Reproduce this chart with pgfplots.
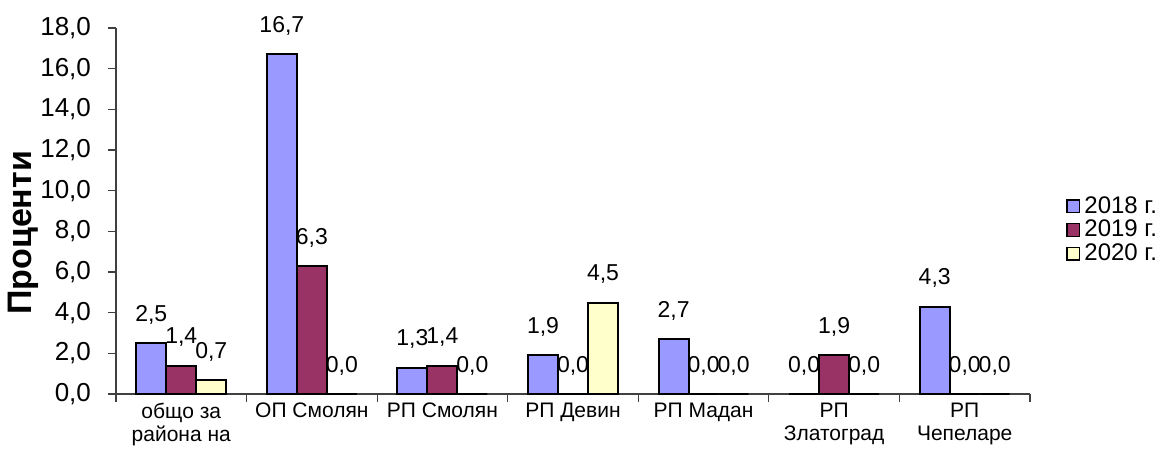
\documentclass[border=0pt]{standalone}
\usepackage{fontspec}
\setmainfont{Liberation Sans}
\usepackage{pgfplots}
\pgfplotsset{compat=1.18}
\definecolor{c18}{HTML}{9999FF}
\definecolor{c19}{HTML}{993366}
\definecolor{c20}{HTML}{FFFFCC}
\begin{document}
\begin{tikzpicture}
\useasboundingbox (-58pt,-28pt) rectangle (526pt,197pt);
\begin{axis}[
  scale only axis, width=457pt, height=183pt,
  ybar=0pt, bar width=15pt,
  xmin=-0.5, xmax=6.5, ymin=0, ymax=18,
  ytick={0,2,...,18}, minor ytick={0,2,...,18},
  xtick={0,...,6}, minor xtick={-0.5,0.5,...,6.5},
  xticklabels={{общо за\\района на},{ОП Смолян},{РП Смолян},{РП Девин},{РП Мадан},{РП\\Златоград},{РП\\Чепеларе}},
  xticklabel style={align=center, font=\fontsize{10.5}{11.5}\selectfont, yshift=-1pt},
  yticklabel style={font=\fontsize{13}{14}\selectfont, xshift=-9pt},
  major tick length=0pt, minor tick length=4pt, tick align=outside,
  tick style={black!75, line width=0.6pt},
  axis x line*=bottom, axis y line*=left,
  axis line style={black!75, line width=0.6pt},
  /pgf/number format/.cd, fixed, fixed zerofill, precision=1, use comma, assume math mode=true,
  /pgfplots/.cd,
  ylabel={Проценти},
  ylabel style={font=\fontsize{17}{19}\selectfont\bfseries, at={(axis description cs:-0.101,0.44)}, anchor=center},
  nodes near coords,
  nodes near coords style={font=\fontsize{11.5}{12}\selectfont, yshift=5.5pt},
  every axis plot/.append style={draw=black, line width=1pt},
  legend style={at={(1.039,0.448)}, anchor=west, draw=none, fill=none,
    font=\fontsize{12}{13}\selectfont, row sep=-2pt, inner sep=0pt},
  legend cell align=left,
  legend image code/.code={\draw[#1, line width=0.8pt] (0pt,-3.2pt) rectangle (6.4pt,3.2pt);},
]
\addplot[fill=c18] coordinates {(0,2.5) (1,16.7) (2,1.3) (3,1.9) (4,2.7) (5,0.0) (6,4.3)};
\addplot[fill=c19] coordinates {(0,1.4) (1,6.3) (2,1.4) (3,0.0) (4,0.0) (5,1.9) (6,0.0)};
\addplot[fill=c20] coordinates {(0,0.7) (1,0.0) (2,0.0) (3,4.5) (4,0.0) (5,0.0) (6,0.0)};
\legend{2018 г.,2019 г.,2020 г.}
\end{axis}
\end{tikzpicture}
\end{document}
